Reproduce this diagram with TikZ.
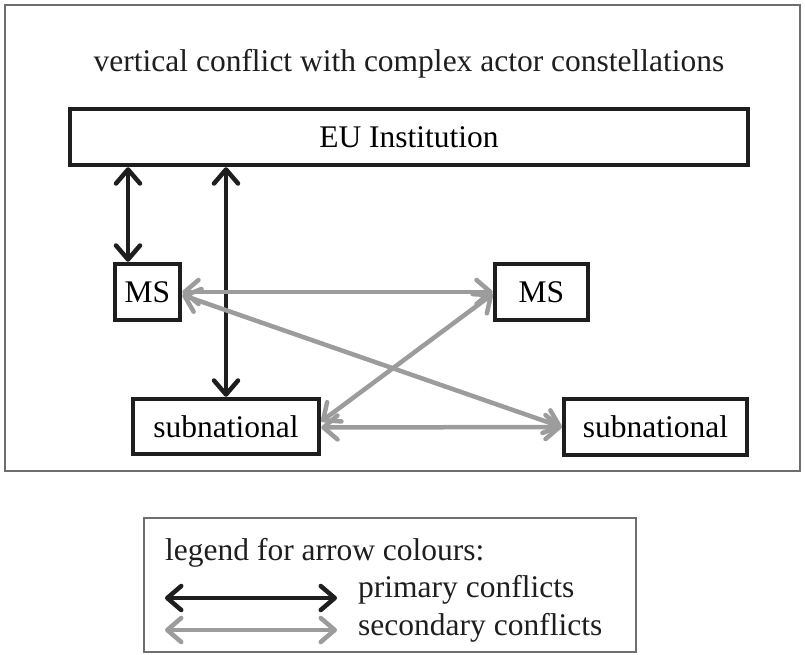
\documentclass[tikz,border=0pt]{standalone}
\usepackage{fontspec}
\setmainfont{Liberation Serif}
\usetikzlibrary{arrows.meta,calc}
\definecolor{prim}{HTML}{1E1E1E}
\definecolor{sec}{HTML}{9C9C9C}
\definecolor{framec}{HTML}{6E6E6E}
\begin{document}
\begin{tikzpicture}[x=1pt,y=-1pt,
  font=\fontsize{31.5}{38}\selectfont,
  box/.style={draw=prim, line width=4.5pt, fill=white, inner sep=0pt, align=center},
  conn/.style={line width=4.5pt, {Straight Barb[length=14pt,width=24pt,round]}-{Straight Barb[length=14pt,width=24pt,round]}},
  primarrow/.style={conn, draw=prim},
  secarrow/.style={conn, draw=sec},
  frm/.style={draw=framec, line width=1.5pt},
  txt/.style={inner sep=0pt, text=prim}]
\useasboundingbox (0,0) rectangle (805,655);
% outer frame
\draw[frm] (5,5) rectangle (800,471);
\node[txt, anchor=base] (title) at (409,72) {vertical conflict with complex actor constellations};
% boxes
\node[box, minimum width=678pt, minimum height=56pt] (eu) at (409,137) {EU Institution};
\node[box, minimum width=65pt, minimum height=56pt] (msl) at (147.5,292) {MS};
\node[box, minimum width=93pt, minimum height=56pt] (msr) at (541.5,292) {MS};
\node[box, minimum width=186pt, minimum height=55pt] (subl) at (226,426.5) {subnational};
\node[box, minimum width=183pt, minimum height=56pt] (subr) at (655.5,427) {subnational};
% primary arrows
\coordinate (c1) at (128,0);
\draw[primarrow] (eu.south -| c1) -- (msl.north -| c1);
\draw[primarrow] (eu.south -| subl.north) -- (subl.north);
% secondary arrows
\draw[secarrow] (msl.east) -- (msr.west);
\draw[secarrow] ([yshift=-3pt]msl.east) -- (subr.west);
\draw[secarrow] ([yshift=5pt]subl.east) -- ([yshift=-2pt]msr.west);
\draw[secarrow] ([yshift=-1pt]subl.east) -- (subr.west);
% legend
\draw[frm] (144,518) rectangle (636,652);
\node[txt, anchor=base west] (lt) at (165,560) {legend for arrow colours:};
\coordinate (l1a) at (165,598);
\coordinate (l1b) at (337,598);
\coordinate (l2a) at (165,630);
\coordinate (l2b) at (337,630);
\draw[primarrow] (l1a) -- (l1b);
\draw[secarrow] (l2a) -- (l2b);
\node[txt, anchor=base west] (lp) at (358,597) {primary conflicts};
\node[txt, anchor=base west] (ls) at (358,635) {secondary conflicts};
\end{tikzpicture}
\end{document}
